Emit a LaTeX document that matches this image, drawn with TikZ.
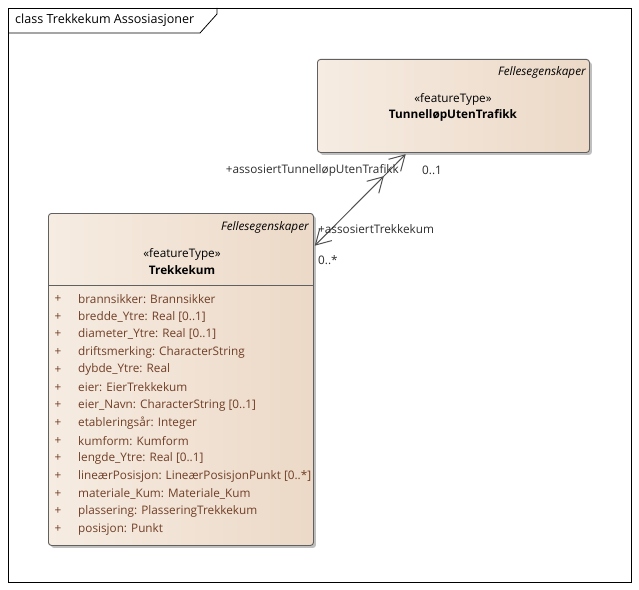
\documentclass[tikz,border=0pt]{standalone}
\usepackage{fontspec}
\setmainfont{Open Sans}
\usetikzlibrary{shadows,calc}
\definecolor{attrcol}{RGB}{112,62,38}
\definecolor{boxborder}{RGB}{96,96,96}
\definecolor{fillL}{RGB}{246,236,226}
\definecolor{fillM}{RGB}{253,250,246}
\definecolor{fillR}{RGB}{236,217,199}
\definecolor{labcol}{RGB}{45,45,45}
\definecolor{linecol}{RGB}{80,80,80}
\begin{document}
\begin{tikzpicture}[x=1bp,y=-1bp,
  clsbox/.style={draw=boxborder, line width=0.9bp, rounded corners=3bp,
    left color=fillL, middle color=fillM, right color=fillR,
    drop shadow={shadow xshift=2.5bp, shadow yshift=-2.5bp, fill=black, opacity=0.25},
    inner sep=0pt, anchor=north west},
  txt/.style={inner sep=0pt, font=\fontsize{11.8}{13}\selectfont},
  lab/.style={txt, text=labcol},
  attr/.style={txt, text=attrcol, anchor=west},
  pl/.style={txt, text=attrcol},
  stereo/.style={txt},
  cname/.style={txt, font=\fontsize{11.8}{13}\selectfont\bfseries},
  pkg/.style={txt, font=\fontsize{11.8}{13}\selectfont\itshape, anchor=east},
  conn/.style={draw=linecol, line width=1bp}
]
\useasboundingbox (0,0) rectangle (639,590);
% frame
\node[draw=black, line width=0.8bp, minimum width=623bp, minimum height=574bp, inner sep=0pt, anchor=north west] (frame) at (8,8) {};
\draw[line width=0.8bp] ($(frame.north west)+(0,25)$) -- ++(192,0) -- ++(17,-19) -- ++(0,-6);
\node[txt, anchor=west, font=\fontsize{12.6}{14}\selectfont] (title) at (15,20.5) {class Trekkekum Assosiasjoner};

% TunnelløpUtenTrafikk
\node[clsbox, minimum width=272bp, minimum height=93bp] (tu) at (317,59) {};
\node[pkg] (tupkg) at (586,72) {Fellesegenskaper};
\node[stereo] (tust) at (453,99) {«featureType»};
\node[cname] (tuname) at (453,115.5) {TunnelløpUtenTrafikk};

% Trekkekum
\node[clsbox, minimum width=265bp, minimum height=332bp] (tk) at (48,213) {};
\node[pkg] (tkpkg) at (309,227) {Fellesegenskaper};
\node[stereo] (tkst) at (182,254) {«featureType»};
\node[cname] (tkname) at (182,270.5) {Trekkekum};
\draw[draw=boxborder, line width=0.9bp] (tk.west |- 0,285) coordinate (dl) -- (tk.east |- 0,285) coordinate (dr);

\foreach \t [count=\i from 0] in {
  brannsikker: Brannsikker,
  bredde\_Ytre: Real [0..1],
  diameter\_Ytre: Real [0..1],
  driftsmerking: CharacterString,
  dybde\_Ytre: Real,
  eier: EierTrekkekum,
  eier\_Navn: CharacterString [0..1],
  etableringsår: Integer,
  kumform: Kumform,
  lengde\_Ytre: Real [0..1],
  lineærPosisjon: LineærPosisjonPunkt [0..*],
  materiale\_Kum: Materiale\_Kum,
  plassering: PlasseringTrekkekum,
  posisjon: Punkt}{
  \node[pl] (p\i) at (58,{299+17.7*\i}) {+};
  \node[attr] (a\i) at (78,{299+17.7*\i}) {\t};
}

% association
\coordinate (endtk) at ($(tk.north east)+(1.5,32)$);
\coordinate (endtu) at ($(tu.south west)+(88,2)$);
\coordinate (tip2) at ($(endtu)+(-21.9,22)$);
\draw[conn] (endtk) -- (endtu);
\draw[conn] (endtu) ++(-16.4,4.4) -- (endtu) -- ++(-4.35,16.4);
\draw[conn] (tip2) ++(-16.4,4.4) -- (tip2) -- ++(-4.35,16.4);
\draw[conn] (endtk) ++(16.4,-4.4) -- (endtk) -- ++(4.35,-16.4);
\node[lab, anchor=east] (r1) at (399,170) {+assosiertTunnelløpUtenTrafikk};
\node[lab, anchor=west] (m1) at (422,170) {0..1};
\node[lab, anchor=west] (r2) at (318,229.5) {+assosiertTrekkekum};
\node[lab, anchor=west] (m2) at (318,260) {0..*};
\end{tikzpicture}
\end{document}
